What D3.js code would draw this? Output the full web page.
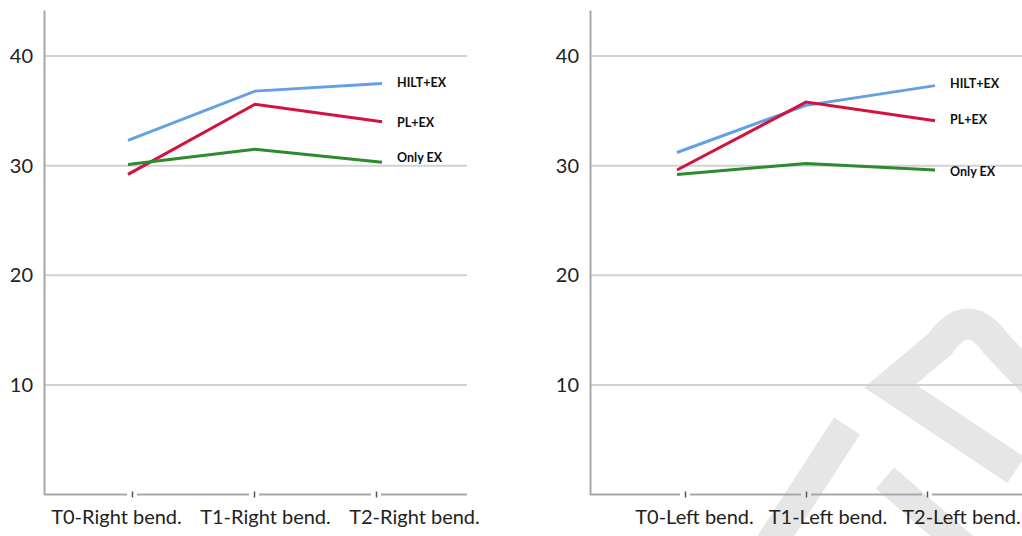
<!DOCTYPE html>
<html>
<head>
<meta charset="utf-8">
<script src="https://cdn.jsdelivr.net/npm/d3@7"></script>
<style>
  body { margin: 0; background: #fff; }
  svg { display: block; font-family: Lato, "Open Sans", sans-serif; }
</style>
</head>
<body>
<svg width="1022" height="536"></svg>
<script>
// categories + tick values
const rightBendCats = ['T0-Right bend.', 'T1-Right bend.', 'T2-Right bend.']
const leftBendCats = ['T0-Left bend.', 'T1-Left bend.', 'T2-Left bend.']
const groups = ['HILT+EX', 'PL+EX', 'Only EX']
const yTicks = [10, 20, 30, 40]

// right bend values (left panel)
const rightHILT = [32.3, 36.8, 37.5]
const rightPL = [29.2, 35.6, 34.0]
const rightOnly = [30.1, 31.5, 30.3]

// left bend values (right panel)
const leftHILT = [31.2, 35.5, 37.3]
const leftPL = [29.6, 35.8, 34.1]
const leftOnly = [29.2, 30.2, 29.6]

const colors = ['#64a0e2', '#d3123e', '#2d8a2d']

const svg = d3.select('svg')

// background watermark
const wm = svg.append('g')
  .attr('fill', 'none')
  .attr('stroke', '#e6e6e6')
  .attr('stroke-linejoin', 'miter')
wm.append('path').attr('d', 'M757,565 L847,426').attr('stroke-width', 31)
wm.append('path').attr('d', 'M1016,470 L890,386 L940,344 Q968,304 996,344 L1045,395').attr('stroke-width', 31)
wm.append('path').attr('d', 'M885,478 L985,565').attr('stroke-width', 28)

function drawPanel (cats, series, p) {
  const y = d3.scaleLinear().domain([0, 44.2]).range([494.5, 10])
  const xLine = d3.scalePoint().domain(cats).range(p.lineRange)
  const xTick = d3.scalePoint().domain(cats).range(p.tickRange)
  const xLabel = d3.scalePoint().domain(cats).range(p.labelRange)

  const g = svg.append('g')

  // gridlines
  g.append('g').selectAll('line')
    .data(yTicks)
    .enter().append('line')
      .attr('x1', p.left)
      .attr('x2', p.right)
      .attr('y1', d => y(d))
      .attr('y2', d => y(d))
      .attr('stroke', '#d2d2d2')
      .attr('stroke-width', 2)

  // y axis
  const yAxis = g.append('g')
    .attr('transform', 'translate(' + p.left + ',0)')
    .call(d3.axisLeft(y).tickValues(yTicks).tickSize(0).tickSizeOuter(0).tickPadding(11))
  yAxis.select('.domain').attr('stroke', '#a8a8a8').attr('stroke-width', 2)
  yAxis.selectAll('text')
    .attr('font-family', 'Lato, sans-serif')
    .attr('font-size', 20)
    .attr('fill', '#222')

  // x axis line, broken around each tick
  const tickPos = cats.map(c => xTick(c))
  const stops = [p.left].concat(tickPos).concat([p.right])
  const segs = d3.pairs(stops).map(([a, b], i) => [
    i === 0 ? a : a + 5,
    i === stops.length - 2 ? b : b - 5
  ])
  g.append('g').selectAll('line')
    .data(segs)
    .enter().append('line')
      .attr('x1', d => d[0])
      .attr('x2', d => d[1])
      .attr('y1', 494.5)
      .attr('y2', 494.5)
      .attr('stroke', '#a8a8a8')
      .attr('stroke-width', 2)

  const xAxis = g.append('g')
    .attr('transform', 'translate(0,494.5)')
    .call(d3.axisBottom(xTick).tickSize(3).tickSizeOuter(0).tickFormat(''))
  xAxis.select('.domain').remove()
  xAxis.selectAll('.tick line').attr('y1', -3).attr('stroke', '#555').attr('stroke-width', 1.5)

  const xLabels = g.append('g')
    .attr('transform', 'translate(0,494.5)')
    .call(d3.axisBottom(xLabel).tickSize(0))
  xLabels.select('.domain').remove()
  xLabels.selectAll('text')
    .attr('dy', null)
    .attr('y', 29)
    .attr('font-family', 'Lato, sans-serif')
    .attr('font-size', 20)
    .attr('fill', '#222')

  // series lines
  const line = d3.line()
    .x((d, i) => xLine(cats[i]))
    .y(d => y(d))

  g.append('g').selectAll('path')
    .data(series)
    .enter().append('path')
      .attr('d', d => line(d))
      .attr('fill', 'none')
      .attr('stroke', (d, i) => colors[i])
      .attr('stroke-width', 3)

  // end labels
  g.append('g').selectAll('text')
    .data(series)
    .enter().append('text')
      .attr('x', xLine(cats[cats.length - 1]) + 15)
      .attr('y', (d, i) => y(d[d.length - 1]) + 4 + p.labelShift[i])
      .attr('font-size', 12.5)
      .attr('font-weight', 'bold')
      .attr('fill', '#111')
      .text((d, i) => groups[i])
}

drawPanel(rightBendCats, [rightHILT, rightPL, rightOnly], {
  left: 44, right: 467,
  lineRange: [128, 382], tickRange: [132, 376], labelRange: [116, 414],
  labelShift: [0, 1, -4]
})

drawPanel(leftBendCats, [leftHILT, leftPL, leftOnly], {
  left: 590, right: 1022,
  lineRange: [677, 935], tickRange: [685, 927], labelRange: [694, 961],
  labelShift: [-2, -1, 2]
})
</script>
</body>
</html>
